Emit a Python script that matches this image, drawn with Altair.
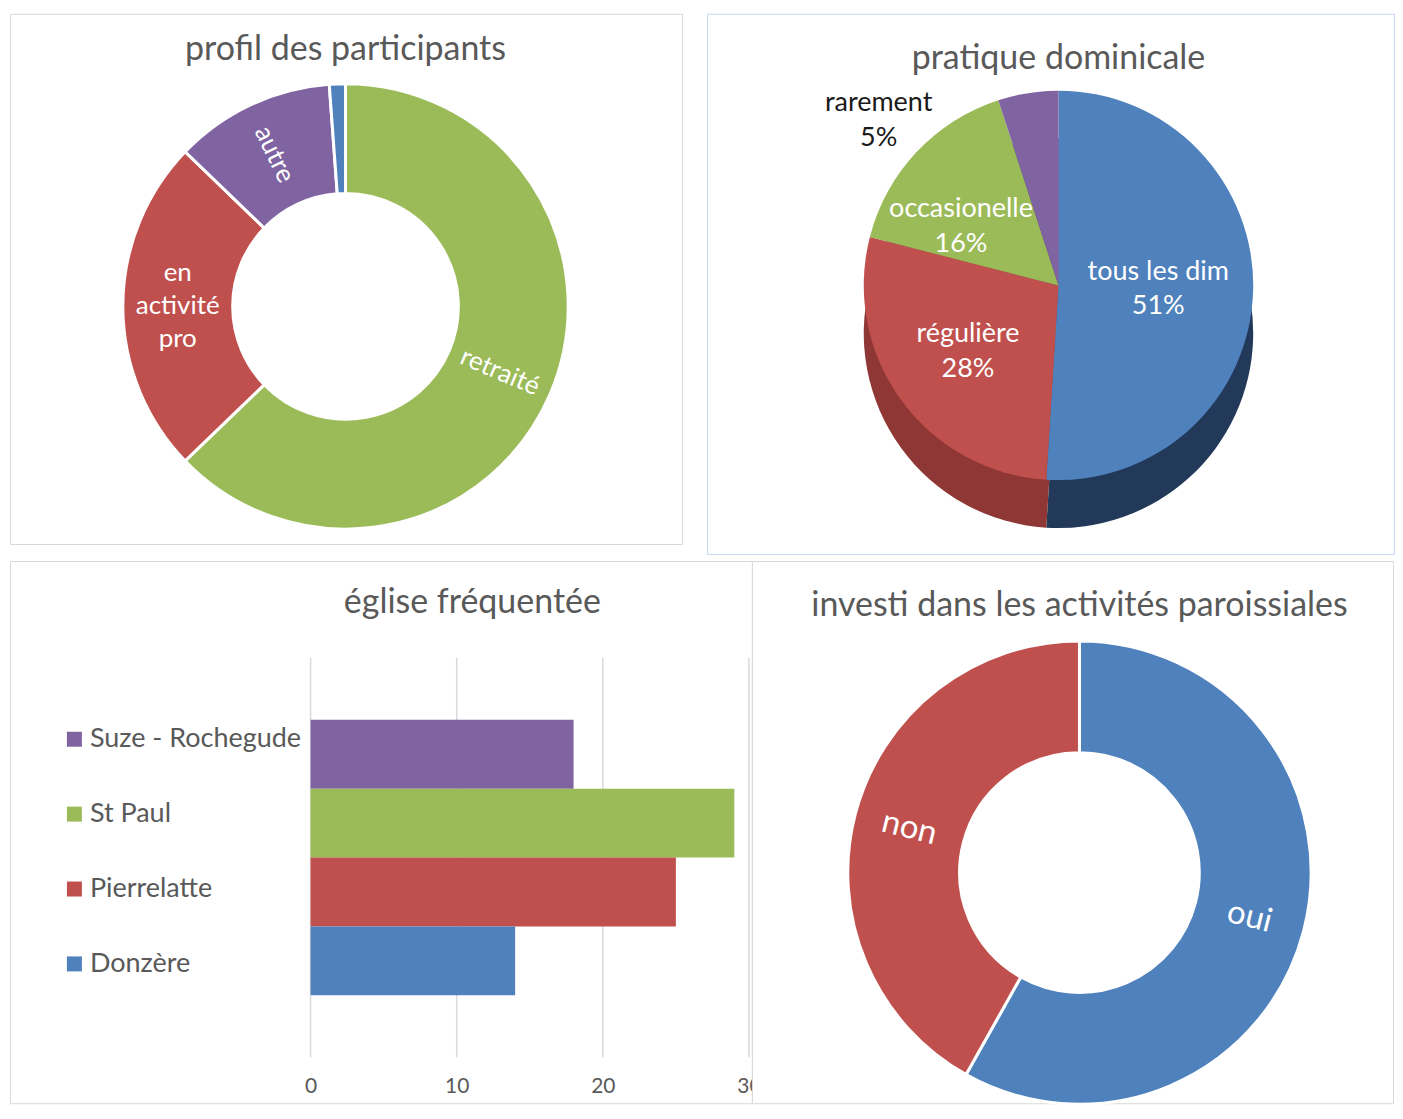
import altair as alt
import pandas as pd

# ---------------- data ----------------
prof_cat = ["retraité", "en activité pro", "autre", "non renseigné"]
prof_val = [54, 21, 10, 1]

dom_cat = ["tous les dim", "régulière", "occasionelle", "rarement"]
dom_pct = [51, 28, 16, 5]

egl_cat = ["Suze - Rochegude", "St Paul", "Pierrelatte", "Donzère"]
egl_val = [18, 29, 25, 14]
egl_ticks = [0, 10, 20, 30]

inv_cat = ["oui", "non"]
inv_val = [50, 36]

titles = ["profil des participants", "pratique dominicale",
          "église fréquentée", "investi dans les activités paroissiales"]

# ---------------- styles ----------------
BLUE, RED, GREEN, PURPLE = "#4F81BD", "#C0504D", "#9BBB59", "#8064A2"
BLUE_D, RED_D, GREEN_D, PURPLE_D = "#22395A", "#8E3734", "#6E8A3C", "#5A4575"
FONT = "Lato"
TXT = "#595959"
BORDER = "#D9D9D9"
BORDER_BLUE = "#C6D9F1"
THETA = alt.Scale(domain=[0, 1], nice=False, zero=True)


def ring_df(cats, vals):
    return pd.DataFrame({"cat": cats, "val": vals, "ord": list(range(len(cats)))})


def ring_base(df):
    return (
        alt.Chart(df)
        .transform_window(cum="sum(val)", sort=[alt.SortField("ord")], frame=[None, 0])
        .transform_joinaggregate(tot="sum(val)")
        .transform_calculate(
            t0="(datum.cum - datum.val) / datum.tot",
            t1="datum.cum / datum.tot",
            tm="(datum.cum - datum.val / 2) / datum.tot",
            pct_lab="datum.cat + '\\n' + datum.val + '%'",
        )
    )


def ring(df, colors, cx, cy, r_in, r_out, stroke=None, sw=0):
    kw = dict(innerRadius=r_in, outerRadius=r_out)
    if stroke:
        kw.update(stroke=stroke, strokeWidth=sw)
    else:
        kw.update(strokeWidth=0)
    return ring_base(df).mark_arc(**kw).encode(
        theta=alt.Theta("t0:Q", scale=THETA),
        theta2="t1:Q",
        color=alt.Color("cat:N", scale=alt.Scale(domain=list(df["cat"]), range=colors), legend=None),
        x=alt.value(cx),
        y=alt.value(cy),
    )


def ring_label(df, cat, field, cx, cy, radius, angle=0, size=26, color="white",
               dx=0, dy=0, line_break="\n", line_height=None):
    kw = dict(radius=radius, angle=angle, fontSize=size, color=color, font=FONT,
              lineBreak=line_break, dx=dx, dy=dy, align="center", baseline="middle")
    if line_height:
        kw["lineHeight"] = line_height
    return (
        ring_base(df)
        .transform_filter(alt.datum.cat == cat)
        .mark_text(**kw)
        .encode(theta=alt.Theta("tm:Q", scale=THETA), text=alt.Text(field + ":N"),
                x=alt.value(cx), y=alt.value(cy))
    )


def title_layer(text, cx, cy, size=34):
    return alt.Chart(pd.DataFrame({"t": [text]})).mark_text(
        font=FONT, fontSize=size, color=TXT, align="center", baseline="middle"
    ).encode(text="t:N", x=alt.value(cx), y=alt.value(cy))


IND = dict(color="independent", x="independent", y="independent", theta="independent")

# ---------------- panel 1 : profil des participants ----------------
d1 = ring_df(prof_cat, prof_val)
cx1, cy1 = 336, 293
p1 = alt.layer(
    ring(d1, [GREEN, RED, PURPLE, BLUE], cx1, cy1, 113, 223, stroke="white", sw=3),
    ring_label(d1, "retraité", "cat", cx1, cy1, 168, angle=23),
    ring_label(d1, "autre", "cat", cx1, cy1, 168, angle=64),
    ring_label(d1, "en activité pro", "cat", cx1, cy1, 168, line_break=" ",
               line_height=33, dy=-33),
    title_layer(titles[0], 336, 36),
).properties(width=673, height=531,
             view=alt.ViewBackground(stroke=BORDER, strokeWidth=1, fill="white"))

# ---------------- panel 2 : pratique dominicale ----------------
d2 = ring_df(dom_cat, dom_pct)
cx2, cy2, R2 = 352, 272, 195
p2 = alt.layer(
    ring(d2, [BLUE_D, RED_D, GREEN_D, PURPLE_D], cx2, cy2 + 48, 0, R2),
    ring(d2, [BLUE, RED, GREEN, PURPLE], cx2, cy2, 0, R2),
    ring_label(d2, "tous les dim", "pct_lab", cx2, cy2, 100, size=27, line_height=35, dy=-17),
    ring_label(d2, "régulière", "pct_lab", cx2, cy2, 112, size=27, line_height=35, dy=-17),
    ring_label(d2, "occasionelle", "pct_lab", cx2, cy2, 101, size=27, line_height=35,
               dx=-24, dy=-7),
    ring_label(d2, "rarement", "pct_lab", cx2, cy2, 205, size=27, color="#1A1A1A",
               dx=-148, dy=20, line_height=35),
    title_layer(titles[1], 352, 45),
).resolve_scale(color="independent").properties(
    width=688, height=541,
    view=alt.ViewBackground(stroke=BORDER_BLUE, strokeWidth=1, fill="white"))

# ---------------- panel 3 : église fréquentée ----------------
d3 = pd.DataFrame({"cat": egl_cat, "val": egl_val})
xs = alt.Scale(domain=[0, 30], range=[301, 740], nice=False)
x_axis = alt.Axis(values=egl_ticks, grid=False, domain=False, ticks=False,
                  labelFontSize=21, labelColor=TXT, labelFont=FONT,
                  labelFlush=False, labelPadding=18, offset=-46, title=None)
grid = alt.Chart(pd.DataFrame({"val": egl_ticks})).mark_rule(color=BORDER, strokeWidth=1.5).encode(
    x=alt.X("val:Q", scale=xs, axis=x_axis),
    y=alt.value(97), y2=alt.value(497),
)
bars = alt.Chart(d3).mark_bar().encode(
    x=alt.X("val:Q", scale=xs, axis=x_axis),
    y=alt.Y("cat:N", sort=egl_cat, axis=None,
            scale=alt.Scale(range=[97, 497], paddingInner=0, paddingOuter=0.9)),
    color=alt.Color("cat:N", sort=egl_cat,
                    scale=alt.Scale(domain=egl_cat, range=[PURPLE, GREEN, RED, BLUE]),
                    legend=alt.Legend(orient="none", legendX=51, legendY=165, title=None,
                                      symbolType="square", symbolSize=225, symbolStrokeWidth=0,
                                      labelFontSize=27, labelFont=FONT, labelColor=TXT,
                                      labelLimit=500, labelOffset=2, rowPadding=47, padding=0)),
)
p3 = alt.layer(grid, bars, title_layer(titles[2], 463, 42)).properties(
    width=743, height=543,
    view=alt.ViewBackground(stroke=BORDER, strokeWidth=1, fill="white"))

# ---------------- panel 4 : investi ----------------
d4 = ring_df(inv_cat, inv_val)
cx4, cy4 = 328, 312
p4 = alt.layer(
    ring(d4, [BLUE, RED], cx4, cy4, 120, 232, stroke="white", sw=3),
    ring_label(d4, "oui", "cat", cx4, cy4, 176, angle=14, size=33),
    ring_label(d4, "non", "cat", cx4, cy4, 176, angle=14, size=33),
    title_layer(titles[3], 328, 45),
).properties(width=642, height=543,
             view=alt.ViewBackground(stroke=BORDER, strokeWidth=1, fill="white"))

row1 = alt.hconcat(p1, p2, spacing=25, bounds="flush").resolve_scale(**IND)
row2 = alt.hconcat(p3, p4, spacing=0, bounds="flush").resolve_scale(**IND)
chart = alt.vconcat(row1, row2, spacing=5).resolve_scale(**IND).properties(
    padding={"left": 1, "top": 4, "right": 0, "bottom": 0})

chart.save("out.html", embed_options={"renderer": "svg", "actions": False})
